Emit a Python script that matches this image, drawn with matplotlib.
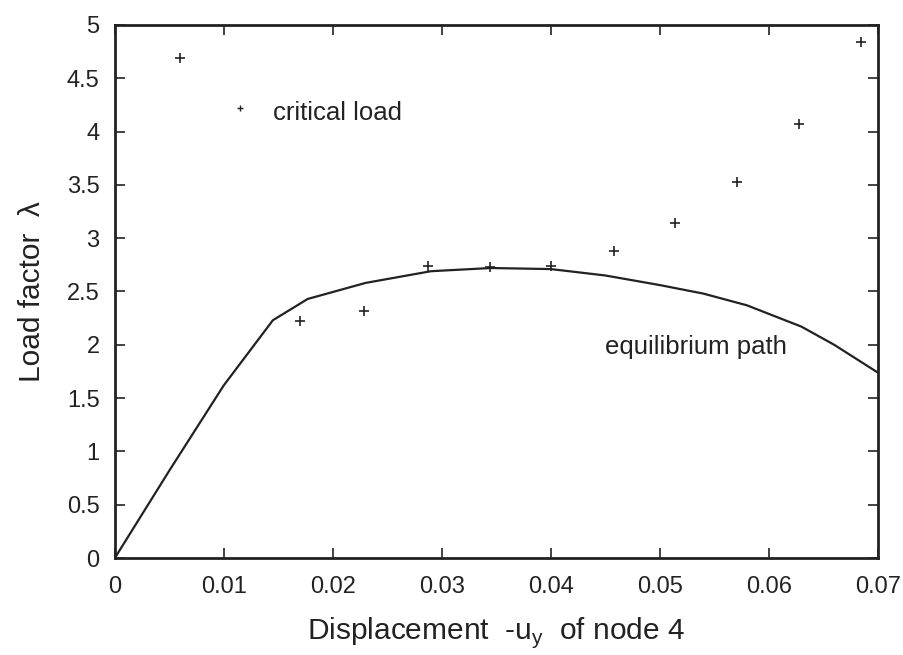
import matplotlib.pyplot as plt
import numpy as np

# equilibrium path
path_disp = [0.0, 0.005, 0.010, 0.0145, 0.0177, 0.023, 0.029, 0.0345, 0.040, 0.045, 0.050, 0.054, 0.058, 0.063, 0.066, 0.070]
path_load = [0.0, 0.82, 1.62, 2.23, 2.43, 2.58, 2.69, 2.72, 2.71, 2.65, 2.56, 2.48, 2.37, 2.17, 2.00, 1.74]

# critical load points
crit_disp = [0.0060, 0.0170, 0.0229, 0.0287, 0.0344, 0.0400, 0.0458, 0.0514, 0.0571, 0.0628, 0.0685]
crit_load = [4.69, 2.22, 2.32, 2.74, 2.73, 2.74, 2.88, 3.14, 3.53, 4.07, 4.84]

xticks = [0, 0.01, 0.02, 0.03, 0.04, 0.05, 0.06, 0.07]
xtick_labels = ["0", "0.01", "0.02", "0.03", "0.04", "0.05", "0.06", "0.07"]
yticks = [0, 0.5, 1, 1.5, 2, 2.5, 3, 3.5, 4, 4.5, 5]
ytick_labels = ["0", "0.5", "1", "1.5", "2", "2.5", "3", "3.5", "4", "4.5", "5"]

plt.rcParams["font.family"] = ["Liberation Sans", "DejaVu Sans"]

fig = plt.figure(figsize=(9.04, 6.55), dpi=100)
ax = fig.add_axes([0.127, 0.148, 0.844, 0.814])

ink = "#222222"
ax.plot(path_disp, path_load, color=ink, lw=1.6)
ax.plot(crit_disp, crit_load, ls="none", marker="+", ms=7, mew=1.2, color=ink)

ax.set_xlim(0, 0.07)
ax.set_ylim(0, 5)
ax.set_xticks(xticks)
ax.set_xticklabels(xtick_labels)
ax.set_yticks(yticks)
ax.set_yticklabels(ytick_labels)
ax.tick_params(direction="in", top=True, right=True, length=7, width=1.2,
               labelsize=17, colors=ink)
ax.tick_params(axis="x", pad=13)
ax.tick_params(axis="y", pad=11)
for side in ax.spines.values():
    side.set_linewidth(2)
    side.set_color(ink)

ax.set_xlabel("Displacement  -u$_\\mathregular{y}$  of node 4", fontsize=21.5, color=ink, labelpad=12)
ax.set_ylabel("Load factor  λ", fontsize=21.5, color=ink, labelpad=15)

# in-plot labels, gnuplot style
ax.plot([0.0115], [4.22], ls="none", marker="+", ms=5, mew=1.0, color=ink)
ax.text(0.0145, 4.17, "critical load", fontsize=18.5, color=ink, va="center")
ax.text(0.0450, 1.98, "equilibrium path", fontsize=18.5, color=ink, va="center")

fig.savefig("out.png", dpi=100)
